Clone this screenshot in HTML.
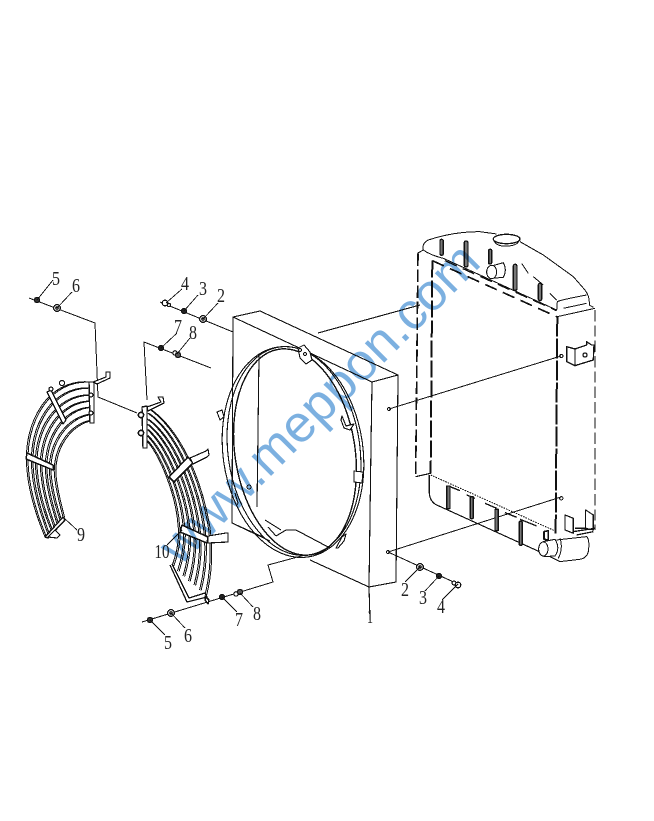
<!DOCTYPE html>
<html><head><meta charset="utf-8"><style>
html,body{margin:0;padding:0;background:#fff;width:654px;height:821px;overflow:hidden}
svg{display:block}
text{font-family:"Liberation Serif",serif;fill:#222}
.l{font-size:20px;text-anchor:middle}
</style></head><body>
<svg width="654" height="821" viewBox="0 0 654 821" xmlns="http://www.w3.org/2000/svg" fill="none" stroke="#111" stroke-width="1" stroke-linejoin="round" shape-rendering="crispEdges">
<!-- shroud box -->
<g stroke-width="1.1">
<path d="M233,317 L260,311 L398,375 L372,382 Z"/>
<path d="M233,317 L232,523 L265,538"/>
<path d="M398,375 L396,582 L369,587 L310,560"/>
<path d="M372,382 L371,445 L369,587 L370,620"/>
<path d="M318,333 L420,305"/>
<path d="M232,523 L270,541"/>
<!-- inner visible lines -->
<path d="M259,355 L257,507"/>
<path d="M265,520 L281,530 M276,536 L286,530 L296,530 L330,548 M276,536 L268,527"/>
</g>
<!-- ring -->
<g stroke-width="1.1">
<ellipse cx="293" cy="452" rx="70" ry="106" transform="rotate(-8 293 452)"/>
<ellipse cx="294" cy="451" rx="66" ry="105" transform="rotate(-8 294 451)"/>
<ellipse cx="295" cy="452" rx="60" ry="104" transform="rotate(-9 295 452)" stroke-width="1.4"/>
</g>
<!-- ring brackets -->
<g stroke-width="1.1" fill="#fff">
<path d="M298,348 L304,345 L310,352 L312,360 L306,364 L300,358 Z"/>
<circle cx="300" cy="350" r="1.5"/><circle cx="305" cy="354" r="1.5"/>
<path d="M342,416 L346,426 L354,424 L350,430 L344,428 L341,420 Z"/>
<path d="M354,471 L363,472 L362,483 L354,482 Z"/>
<path d="M217,412 L222,410 L224,417 L220,420 Z"/>
<path d="M336,548 L342,537 L346,534 L344,541 L338,548 Z"/>
<circle cx="249" cy="487" r="2"/>
<path d="M235,493 L238,503 L237,505"/>
</g>
<!-- long connector lines -->
<g stroke-width="1">
<path d="M389,409 L561,356"/>
<path d="M388,552 L561,497"/>
<path d="M388,552 L458,584"/>
<path d="M160,302 L233,332"/>
<path d="M29,298 L95,323 L98,397 L137,413"/>
<path d="M211,368 L144,342 L147,400"/>
<path d="M142,622 L273,582 L268,565 L305,555"/>
</g>
<circle cx="389" cy="409" r="1.5"/><circle cx="388" cy="552" r="1.5"/>
<!-- radiator -->
<g transform="translate(400,220) scale(.3333)" stroke-width="3">
<path d="M54,100 L47,770" stroke-width="5" stroke-dasharray="38,10"/>
<path d="M97,122 L92,760" stroke-width="6" stroke-dasharray="50,10"/>
<path d="M472,290 L467,940" stroke-width="6" stroke-dasharray="60,6"/>
<path d="M585,270 L585,930" stroke-width="4" stroke-dasharray="34,12"/>
<path d="M97,122 L470,290" stroke-width="5" stroke-dasharray="38,20"/>
<path d="M135,122 L470,272" stroke-width="4" stroke-dasharray="38,20"/>
<path d="M52,100 L70,90 Q65,70 85,60 Q160,35 240,35 L290,42"/>
<path d="M360,65 L430,105 L520,170 L555,210 Q570,230 568,255 L580,262"/>
<path d="M70,90 Q90,105 130,115 L470,270"/>
<path d="M472,290 L585,265 M470,272 L472,245 Q480,240 560,225"/>
<path d="M365,130 L385,160 M400,170 L430,195 M450,220 L470,240"/>
<path d="M490,265 L560,250"/>
<ellipse cx="320" cy="57" rx="40" ry="14" stroke-width="4"/>
<path d="M282,62 Q290,80 320,78 Q352,78 358,60"/>
<path d="M275,138 L310,128 Q322,150 310,172 L275,175" fill="#fff"/>
<ellipse cx="275" cy="156" rx="15" ry="20" fill="#fff"/>
<g fill="#777" stroke-width="4">
<rect x="120" y="58" width="10" height="48" rx="5"/>
<rect x="193" y="63" width="11" height="78" rx="5"/>
<rect x="266" y="88" width="9" height="44" rx="4"/>
<rect x="340" y="133" width="11" height="78" rx="5"/>
<rect x="415" y="190" width="10" height="52" rx="5"/>
</g>
<path d="M500,380 L500,425 L525,437 L580,420 L582,375 L575,375 L560,365 L560,375 L525,387 Z M525,387 L525,437" stroke-width="4"/>
<circle cx="555" cy="405" r="6" stroke-width="4"/>
<circle cx="484" cy="408" r="5"/>
<circle cx="484" cy="835" r="5"/>
<path d="M47,770 L92,760 M88,765 L88,820 Q90,845 110,855 L440,1005" stroke-width="3.5"/>
<path d="M92,765 L470,935" stroke-dasharray="5,3"/>
<path d="M150,800 L180,812 M200,825 L225,835 M255,850 L290,865 M315,878 L350,892 M360,898 L410,918" stroke-width="4"/>
<g fill="#777" stroke-width="4">
<rect x="140" y="798" width="10" height="68" rx="2"/>
<rect x="211" y="830" width="9" height="66" rx="3"/>
<rect x="285" y="868" width="10" height="64" rx="2"/>
<rect x="358" y="904" width="9" height="72" rx="3"/>
</g>
<path d="M470,960 L560,950 Q570,960 565,995 Q560,1015 540,1018 L480,1025 L440,1005"/>
<path d="M432,935 L445,932 L445,960 L432,958 Z" stroke-width="5"/>
<path d="M430,965 L465,958 Q482,985 465,1008 L430,1010" fill="#fff"/>
<ellipse cx="430" cy="987" rx="14" ry="21" fill="#fff"/>
<path d="M480,955 Q490,985 475,1015"/>
<path d="M495,885 L520,895 L520,940 L495,930 Z" stroke-width="3.5"/>
<path d="M557,870 L580,885 L580,930 L557,925 Z" stroke-width="3.5"/>
<path d="M520,935 L585,925 M525,925 L560,925 M530,945 L580,935" stroke-width="4"/>
</g>
<!-- piece 9 wires -->
<defs>
<g id="w9" stroke-width="1">
<path d="M90,382 C50,378 22,420 27,470 C29,495 38,520 45,537"/>
<path d="M90.5,388 C53,385 27,425 32,472 C34,495 42,518 48,534"/>
<path d="M91,395 C57,393 31,430 36,473 C38,495 45,515 51,530"/>
<path d="M91.5,401 C60,400 36,435 41,475 C43,495 49,513 54,527"/>
<path d="M92,407 C63,407 41,440 46,477 C48,495 53,510 57,524"/>
<path d="M92.5,414 C67,415 45,445 50,478 C52,495 56,508 60,520"/>
<path d="M93,420 C70,422 50,450 55,480 C57,495 60,505 63,517"/>
</g>
<g id="w10" stroke-width="1">
<path d="M148,408 C180,430 200,480 208,525 C212,550 210,575 205,595"/>
<path d="M147.7,413 C176.7,434 196,482.5 203,525 C206.7,548 204.3,572 199.5,590"/>
<path d="M147.3,419 C173.3,438 192,485 198,525 C201.3,547 198.7,568 194,585"/>
<path d="M147,424 C170,442 188,487.5 193,525 C196,545 193,565 188.5,581"/>
<path d="M146.7,429 C166.7,447 184,490 188,525 C190.7,543 187.3,562 183,576"/>
<path d="M146.3,435 C163.3,451 180,492.5 183,525 C185.3,542 181.7,558 177.5,571"/>
<path d="M146,440 C160,455 176,495 178,525 C180,540 176,555 172,566"/>
</g>
</defs>
<use href="#w9"/><use href="#w9" transform="translate(1.6,0.4)"/>
<use href="#w10"/><use href="#w10" transform="translate(1.6,0.4)"/>
<!-- piece 9 details -->
<g fill="#fff" stroke-width="1.2">
<path d="M27,453 L53,465 L53,470 L26,459 Z" stroke-width="1.5"/>
<path d="M47,392 L51,390 L66,420 L63,424 Z"/>
<path d="M45,537 L63,517 L65,520 L48,538 Z" stroke-width="1.5"/>
<path d="M48,537 L55,530 L60,535 L57,538 Z"/>
<path d="M89,382 L94,382 L94,423 L90,423 Z" stroke-width="1.4"/>
<path d="M93,382 L106,377 L106,372 L110,372 L110,378 L97,384 Z"/>
<circle cx="62" cy="383" r="2.5"/><circle cx="51" cy="389" r="2"/>
<circle cx="91" cy="395" r="2"/><circle cx="91" cy="413" r="2"/>
<!-- piece 10 details -->
<path d="M169,477 L174,482 L193,463 L188,457 Z" stroke-width="1.5"/>
<path d="M190,458 L206,451 L208,449 L209,455 L207,457 L193,464 Z"/>
<path d="M182,525 L208,537 L207,543 L180,532 Z" stroke-width="1.5"/>
<path d="M208,536 L226,533 L228,533 L228,542 L208,543 Z"/>
<path d="M142,407 L147,406 L147,448 L143,448 Z" stroke-width="1.4"/>
<path d="M147,407 L161,402 L158,397 L163,397 L164,403 L148,411 Z"/>
<circle cx="141" cy="415" r="2.6" stroke-width="1.6"/>
<circle cx="141" cy="433" r="2.6" stroke-width="1.6"/>
<path d="M170,565 L187,602 L207,597 L205,593 L189,598 L172,564" stroke-width="1.3"/>
<path d="M205,596 L209,600 L208,604 L205,600 Z" stroke-width="1.5"/>
</g>
<!-- fasteners -->
<g stroke-width="1.2" fill="#fff">
<circle cx="37" cy="300" r="2.6" fill="#333"/>
<circle cx="57" cy="308" r="3.4"/><circle cx="57" cy="308" r="1.2"/>
<circle cx="165" cy="303" r="2.8"/><circle cx="169" cy="305" r="1.6"/>
<circle cx="184" cy="311" r="2.5" fill="#222"/>
<circle cx="203" cy="319" r="3.4"/><circle cx="203" cy="319" r="1.2"/>
<circle cx="161" cy="348" r="2.5" fill="#222"/>
<circle cx="175" cy="353" r="2.2"/><circle cx="178" cy="355" r="2.6" fill="#555"/>
<circle cx="150" cy="620" r="2.6" fill="#333"/>
<circle cx="171" cy="613" r="3.4"/><circle cx="171" cy="613" r="1.2"/>
<circle cx="222" cy="597" r="2.5" fill="#222"/>
<circle cx="236" cy="594" r="2.2"/><circle cx="240" cy="592" r="2.6" fill="#555"/>
<circle cx="420" cy="567" r="3.4"/><circle cx="420" cy="567" r="1.2"/>
<circle cx="439" cy="576" r="2.5" fill="#222"/>
<circle cx="454" cy="583" r="2"/><circle cx="458" cy="585" r="2.8"/>
</g>
<!-- leaders -->
<g stroke-width=".9">
<path d="M37,300 L53,280 M57,308 L72,292 M166,303 L182,289 M184,311 L198,295 M203,319 L218,303 M161,348 L177,333 M177,354 L190,338"/>
<path d="M63,517 L77,530 M182,530 L167,545"/>
<path d="M150,620 L165,635 M171,613 L185,628 M222,597 L237,612 M240,593 L253,607"/>
<path d="M420,567 L405,582 M439,576 L425,591 M458,584 L442,600"/>
</g>
<!-- labels -->
<g stroke="none">
<text class="l" x="56" y="285" textLength="8" lengthAdjust="spacingAndGlyphs">5</text>
<text class="l" x="76" y="292" textLength="8" lengthAdjust="spacingAndGlyphs">6</text>
<text class="l" x="185" y="290" textLength="8" lengthAdjust="spacingAndGlyphs">4</text>
<text class="l" x="203" y="295" textLength="8" lengthAdjust="spacingAndGlyphs">3</text>
<text class="l" x="221" y="302" textLength="8" lengthAdjust="spacingAndGlyphs">2</text>
<text class="l" x="178" y="333" textLength="8" lengthAdjust="spacingAndGlyphs">7</text>
<text class="l" x="193" y="339" textLength="8" lengthAdjust="spacingAndGlyphs">8</text>
<text class="l" x="81" y="541" textLength="8" lengthAdjust="spacingAndGlyphs">9</text>
<text class="l" x="162" y="558" textLength="15" lengthAdjust="spacingAndGlyphs">10</text>
<text class="l" x="370" y="623" textLength="6" lengthAdjust="spacingAndGlyphs">1</text>
<text class="l" x="405" y="596" textLength="8" lengthAdjust="spacingAndGlyphs">2</text>
<text class="l" x="423" y="604" textLength="8" lengthAdjust="spacingAndGlyphs">3</text>
<text class="l" x="441" y="613" textLength="8" lengthAdjust="spacingAndGlyphs">4</text>
<text class="l" x="239" y="626" textLength="8" lengthAdjust="spacingAndGlyphs">7</text>
<text class="l" x="257" y="620" textLength="8" lengthAdjust="spacingAndGlyphs">8</text>
<text class="l" x="168" y="649" textLength="8" lengthAdjust="spacingAndGlyphs">5</text>
<text class="l" x="188" y="642" textLength="8" lengthAdjust="spacingAndGlyphs">6</text>
</g>
<!-- watermark -->
<text x="180" y="567" transform="rotate(-45 180 567)" font-size="52" textLength="428" lengthAdjust="spacingAndGlyphs" stroke="none" style="font-family:'Liberation Sans',sans-serif;fill:#7cb0e0;mix-blend-mode:multiply">www.meppon.com</text>
</svg>
</body></html>
